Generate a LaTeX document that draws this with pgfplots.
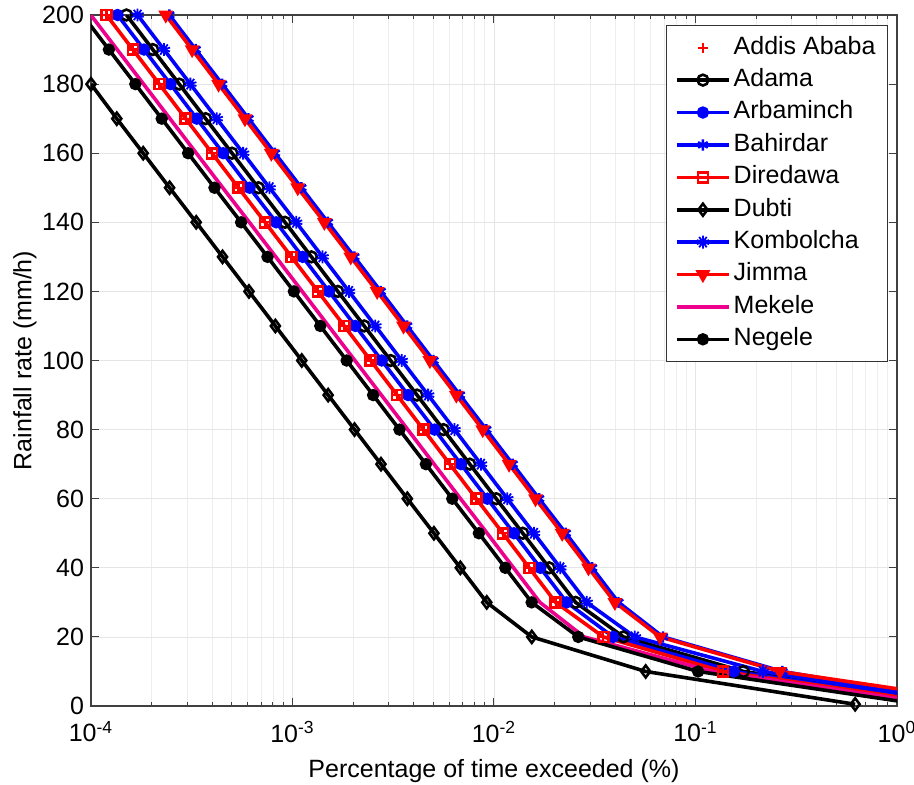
\documentclass[border=0pt]{standalone}
\usepackage{pgfplots}
\pgfplotsset{compat=1.18}
\usepackage{fontspec}
\setmainfont{Liberation Sans}
\begin{document}
\begin{tikzpicture}
\begin{axis}[
  at={(0,0)}, anchor=south west,
  scale only axis, width=403pt, height=345.5pt,
  xmode=log, xmin=1e-4, xmax=1, ymin=0, ymax=200,
  xtick={1e-4,1e-3,1e-2,1e-1,1},
  xticklabels={10\textsuperscript{-4},10\textsuperscript{-3},10\textsuperscript{-2},10\textsuperscript{-1},10\textsuperscript{0}},
  ytick={0,20,...,200},
  /pgf/number format/assume math mode=true,
  tick align=inside,
  grid=both,
  major grid style={black!10, line width=0.4pt},
  minor grid style={black!7, line width=0.4pt},
  axis line style={black!75, line width=0.6pt},
  every tick/.style={black!75, line width=0.5pt},
  major tick length=4pt, minor tick length=2pt,
  tick label style={font=\fontsize{12.5}{15}\selectfont},
  xticklabel style={yshift=-4pt},
  label style={font=\fontsize{12.5}{15}\selectfont},
  xlabel={Percentage of time exceeded (\%)},
  ylabel={Rainfall rate (mm/h)},
  xlabel style={at={(axis description cs:0.5,-0.1028)}, anchor=base},
  ylabel style={at={(axis description cs:-0.0819,0.5)}, anchor=center},
  legend style={at={(rel axis cs:1,1)}, anchor=north east, xshift=-4.5pt, yshift=-5pt,
    draw=black!80, line width=0.5pt, fill=white, font=\fontsize{12.5}{15}\selectfont,
    inner xsep=4.5pt, inner ysep=3pt, row sep=0pt, column sep=0pt,
    nodes={inner xsep=1.5pt, inner ysep=2.5pt, text height=8.8pt, text depth=2.4pt}},
  legend cell align=left,
  legend image code/.code={\draw[mark repeat=2,mark phase=2] plot coordinates {(0pt,0pt) (13pt,0pt) (26pt,0pt)};},
  every axis plot/.append style={line width=1.8pt},
]
% Addis Ababa
\addplot[red, only marks, mark=+, mark size=2.6pt, mark options={line width=1.1pt}] coordinates {
(1.194e-4,200) (1.614e-4,190) (2.183e-4,180) (2.951e-4,170) (3.990e-4,160) (5.395e-4,150) (7.311e-4,140) (9.886e-4,130) (1.337e-3,120) (1.807e-3,110) (2.443e-3,100) (3.304e-3,90) (4.467e-3,80) (6.039e-3,70) (8.166e-3,60) (1.107e-2,50) (1.496e-2,40) (2.023e-2,30) (0.0349,20) (0.137,10)};
\addlegendentry{Addis Ababa}
% Adama
\addplot[black, mark=o, mark size=2.7pt, mark options={line width=1.3pt}] coordinates {
(1.500e-4,200) (2.027e-4,190) (2.742e-4,180) (3.706e-4,170) (5.011e-4,160) (6.776e-4,150) (9.183e-4,140) (1.242e-3,130) (1.679e-3,120) (2.270e-3,110) (3.069e-3,100) (4.150e-3,90) (5.611e-3,80) (7.585e-3,70) (1.026e-2,60) (1.390e-2,50) (1.879e-2,40) (2.541e-2,30) (0.0439,20) (0.173,10) (2.47,0)};
\addlegendentry{Adama}
% Arbaminch
\addplot[blue, mark=*, mark size=2.6pt, mark options={line width=1pt}] coordinates {
(1.355e-4,200) (1.832e-4,190) (2.478e-4,180) (3.349e-4,170) (4.529e-4,160) (6.123e-4,150) (8.298e-4,140) (1.122e-3,130) (1.517e-3,120) (2.051e-3,110) (2.773e-3,100) (3.750e-3,90) (5.070e-3,80) (6.854e-3,70) (9.268e-3,60) (1.256e-2,50) (1.698e-2,40) (2.296e-2,30) (0.039,20) (0.155,10) (2.22,0)};
\addlegendentry{Arbaminch}
% Bahirdar
\addplot[blue, mark=asterisk, mark size=2.8pt, mark options={line width=1.2pt}] coordinates {
(2.449e-4,200) (3.309e-4,190) (4.476e-4,180) (6.052e-4,170) (8.182e-4,160) (1.107e-3,150) (1.499e-3,140) (2.028e-3,130) (2.742e-3,120) (3.705e-3,110) (5.010e-3,100) (6.775e-3,90) (9.160e-3,80) (1.238e-2,70) (1.674e-2,60) (2.271e-2,50) (3.068e-2,40) (4.148e-2,30) (0.069,20) (0.27,10) (2.8,0)};
\addlegendentry{Bahirdar}
% Diredawa
\addplot[red, mark=square, mark size=2.5pt, mark options={line width=1.3pt}] coordinates {
(1.194e-4,200) (1.614e-4,190) (2.183e-4,180) (2.951e-4,170) (3.990e-4,160) (5.395e-4,150) (7.311e-4,140) (9.886e-4,130) (1.337e-3,120) (1.807e-3,110) (2.443e-3,100) (3.304e-3,90) (4.467e-3,80) (6.039e-3,70) (8.166e-3,60) (1.107e-2,50) (1.496e-2,40) (2.023e-2,30) (0.0349,20) (0.137,10) (2.09,0)};
\addlegendentry{Diredawa}
% Dubti
\addplot[black, mark=diamond, mark size=3pt, mark options={line width=1.3pt}] coordinates {
(1.0e-4,180) (1.343e-4,170) (1.816e-4,160) (2.455e-4,150) (3.327e-4,140) (4.498e-4,130) (6.081e-4,120) (8.222e-4,110) (1.112e-3,100) (1.503e-3,90) (2.032e-3,80) (2.748e-3,70) (3.715e-3,60) (5.035e-3,50) (6.808e-3,40) (9.204e-3,30) (0.0154,20) (0.0566,10) (0.62,0.5)};
\addlegendentry{Dubti}
% Kombolcha
\addplot[blue, mark=10-pointed star, mark size=3.2pt, mark options={line width=0.9pt}] coordinates {
(1.703e-4,200) (2.302e-4,190) (3.113e-4,180) (4.208e-4,170) (5.690e-4,160) (7.693e-4,150) (1.043e-3,140) (1.410e-3,130) (1.907e-3,120) (2.577e-3,110) (3.484e-3,100) (4.711e-3,90) (6.370e-3,80) (8.612e-3,70) (1.164e-2,60) (1.579e-2,50) (2.133e-2,40) (2.885e-2,30) (0.050,20) (0.216,10) (2.56,0)};
\addlegendentry{Kombolcha}
% Jimma
\addplot[red, mark=triangle*, mark size=3.2pt, mark options={rotate=180, line width=1.1pt}] coordinates {
(2.350e-4,200) (3.176e-4,190) (4.296e-4,180) (5.808e-4,170) (7.852e-4,160) (1.062e-3,150) (1.439e-3,140) (1.946e-3,130) (2.631e-3,120) (3.556e-3,110) (4.808e-3,100) (6.502e-3,90) (8.791e-3,80) (1.188e-2,70) (1.607e-2,60) (2.179e-2,50) (2.944e-2,40) (3.981e-2,30) (0.0667,20) (0.262,10) (3.82,0)};
\addlegendentry{Jimma}
% Mekele
\addplot[magenta, no marks] coordinates {
(0.998e-4,200) (1.349e-4,190) (1.824e-4,180) (2.466e-4,170) (3.334e-4,160) (4.508e-4,150) (6.109e-4,140) (8.261e-4,130) (1.117e-3,120) (1.510e-3,110) (2.041e-3,100) (2.761e-3,90) (3.733e-3,80) (5.046e-3,70) (6.824e-3,60) (9.250e-3,50) (1.250e-2,40) (1.690e-2,30) (0.028,20) (0.122,10) (1.81,0)};
\addlegendentry{Mekele}
% Negele
\addplot[black, mark=*, mark size=2.6pt, mark options={line width=1pt}] coordinates {
(9.08e-5,200) (1.227e-4,190) (1.660e-4,180) (2.244e-4,170) (3.034e-4,160) (4.102e-4,150) (5.559e-4,140) (7.516e-4,130) (1.016e-3,120) (1.374e-3,110) (1.858e-3,100) (2.512e-3,90) (3.396e-3,80) (4.592e-3,70) (6.209e-3,60) (8.414e-3,50) (1.138e-2,40) (1.538e-2,30) (0.0262,20) (0.103,10) (1.49,0)};
\addlegendentry{Negele}
\end{axis}
\pgfresetboundingbox
\path[use as bounding box] (-45.5pt,-39pt) rectangle (411.5pt,353pt);
\end{tikzpicture}
\end{document}
